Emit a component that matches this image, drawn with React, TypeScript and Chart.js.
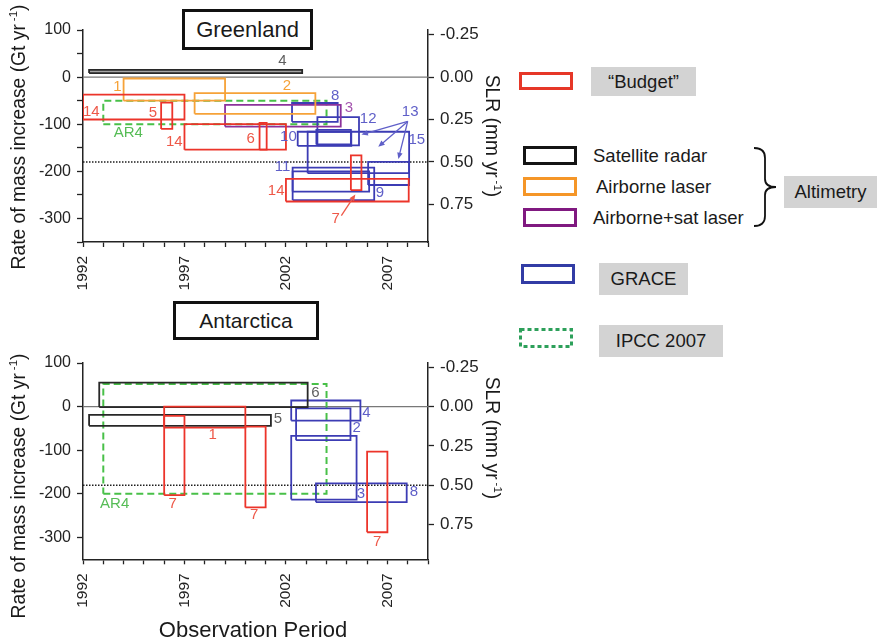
import React, { useEffect, useRef } from "react";
import { Chart, registerables } from "chart.js";
Chart.register(...registerables);

const FONT = "'Liberation Sans', Arial, Helvetica, sans-serif";

// ---- axes ----
const YEAR_MIN = 1992;
const YEAR_MAX = 2009;
const YEAR_TICKS = [1992, 1993, 1994, 1995, 1996, 1997, 1998, 1999, 2000, 2001, 2002, 2003, 2004, 2005, 2006, 2007, 2008, 2009];
const YEAR_LABELS = [1992, 1997, 2002, 2007];
const GT_MIN = -350;
const GT_MAX = 100;
const GT_TICKS = [100, 50, 0, -50, -100, -150, -200, -250, -300, -350];
const GT_LABELS = [100, 0, -100, -200, -300];
const SLR_TICKS = [-0.25, 0, 0.25, 0.5, 0.75];
const GT_PER_MM = 360;
const ZERO_LINE = 0;
const HALF_MM_LINE = -180;

// ---- Greenland boxes: [startYear, endYear, lowGt, highGt] ----
const GRL_BUDGET = [
  [1992, 1997, -90, -37],
  [1995.85, 1996.4, -110, -54],
  [1997, 2002, -154, -100],
  [2000.7, 2001.05, -154, -97],
  [2002, 2008.05, -264, -216],
  [2005.2, 2005.72, -240, -166],
];
const GRL_RADAR = [[1992.3, 2002.8, 8.5, 15.5]];
const GRL_AIRBORNE = [
  [1994, 1999, -50, -3],
  [1997.5, 2003.45, -78, -34],
];
const GRL_AIRSAT = [[1999, 2004.7, -105, -59]];
const GRL_GRACE = [
  [2002.3, 2004.55, -95, -55],
  [2003.55, 2005.6, -145, -85],
  [2002.58, 2005.22, -146, -116],
  [2003.5, 2005.2, -143, -112],
  [2003.07, 2008.07, -204, -116],
  [2006.05, 2008.07, -229, -180],
  [2002.33, 2006.35, -261, -192],
  [2002.33, 2006.1, -243, -200],
];
const GRL_IPCC = [[1993, 2004, -100, -50]];

// labels: [text, year, Gt]
const GRL_BUDGET_TAGS = [["14", 1992.41, -73], ["5", 1995.44, -75], ["14", 1996.5, -138], ["6", 2000.26, -131], ["14", 2001.52, -242], ["7", 2004.45, -301]];
const GRL_RADAR_TAGS = [["4", 2001.83, 35]];
const GRL_AIRBORNE_TAGS = [["1", 1993.69, -21], ["2", 2002.05, -18]];
const GRL_AIRSAT_TAGS = [["3", 2005.1, -66]];
const GRL_GRACE_TAGS = [["8", 2004.43, -39], ["12", 2006.05, -89], ["13", 2008.12, -73], ["10", 2002.12, -127], ["15", 2008.45, -133], ["11", 2001.83, -191], ["9", 2006.63, -246]];
const GRL_IPCC_TAGS = [["AR4", 1994.23, -119]];
// arrows: [fromYear, fromGt, toYear, toGt]
const GRL_GRACE_ARROWS = [[2008.0, -94, 2005.72, -122], [2008.0, -94, 2006.55, -148], [2008.0, -94, 2007.54, -174]];
const GRL_BUDGET_ARROWS = [[2004.73, -294, 2005.42, -249]];

// ---- Antarctica boxes ----
const ANT_BUDGET = [
  [1996, 2000, -48, 0],
  [1996, 1997, -203, -21],
  [2000, 2001, -231, -46],
  [2006, 2007, -288, -103],
];
const ANT_RADAR = [
  [1992.8, 2003.07, -1, 55],
  [1992.3, 2001.26, -44, -19],
];
const ANT_GRACE = [
  [2002.26, 2005.67, -32, 14],
  [2002.5, 2005.18, -77, -4],
  [2002.26, 2005.48, -213, -67],
  [2003.48, 2007.95, -219, -176],
];
const ANT_IPCC = [[1993, 2004, -200, 52]];

const ANT_BUDGET_TAGS = [["1", 1998.39, -65], ["7", 1996.42, -223], ["7", 2000.43, -249], ["7", 2006.5, -310]];
const ANT_RADAR_TAGS = [["6", 2003.45, 31], ["5", 2001.6, -29]];
const ANT_GRACE_TAGS = [["4", 2005.97, -15], ["2", 2005.48, -48], ["3", 2005.7, -199], ["8", 2008.31, -195]];
const ANT_IPCC_TAGS = [["AR4", 1993.56, -222]];

// ---- styles ----
const STYLE = {
  budget: { line: "rgb(236,52,42)", text: "rgb(238,88,72)", dash: [] as number[], width: 1.8 },
  radar: { line: "rgb(40,40,40)", text: "rgb(95,95,95)", dash: [] as number[], width: 1.8 },
  airborne: { line: "rgb(246,162,56)", text: "rgb(246,162,56)", dash: [] as number[], width: 1.8 },
  airsat: { line: "rgb(140,50,155)", text: "rgb(165,85,175)", dash: [] as number[], width: 1.8 },
  grace: { line: "rgb(60,60,180)", text: "rgb(95,95,200)", dash: [] as number[], width: 1.8 },
  ipcc: { line: "rgb(72,192,72)", text: "rgb(85,188,85)", dash: [7, 4], width: 2 },
};

type Box = number[];
type Tag = (string | number)[];

function boxPoints(b: Box) {
  const [x0, x1, y0, y1] = b;
  return [
    { x: x0, y: y0 },
    { x: x1, y: y0 },
    { x: x1, y: y1 },
    { x: x0, y: y1 },
    { x: x0, y: y0 },
  ];
}

function boxDatasets(boxes: Box[], key: keyof typeof STYLE, fillColor?: string) {
  const s = STYLE[key];
  return boxes.map((b) => ({
    data: boxPoints(b),
    showLine: true,
    borderColor: s.line,
    borderWidth: s.width,
    borderDash: s.dash,
    pointRadius: 0,
    pointHoverRadius: 0,
    tension: 0,
    fill: fillColor ? "shape" : false,
    backgroundColor: fillColor || "transparent",
  }));
}

function refLines() {
  return [
    {
      data: [{ x: YEAR_MIN, y: ZERO_LINE }, { x: YEAR_MAX, y: ZERO_LINE }],
      showLine: true, borderColor: "rgb(120,120,120)", borderWidth: 1.2, pointRadius: 0, fill: false,
    },
    {
      data: [{ x: YEAR_MIN, y: HALF_MM_LINE }, { x: YEAR_MAX, y: HALF_MM_LINE }],
      showLine: true, borderColor: "rgb(30,30,30)", borderWidth: 1.5, borderDash: [1.5, 1.5], pointRadius: 0, fill: false,
    },
  ];
}

function annotPlugin(tags: { list: Tag[]; color: string }[], arrows: { list: number[][]; color: string }[]) {
  return {
    id: "annot",
    afterDatasetsDraw(chart: any) {
      const { ctx, scales } = chart;
      const x = scales.x;
      const y = scales.y;
      ctx.save();
      ctx.font = `15px ${FONT}`;
      ctx.textAlign = "center";
      ctx.textBaseline = "middle";
      tags.forEach((g) => {
        ctx.fillStyle = g.color;
        g.list.forEach((t) => {
          ctx.fillText(String(t[0]), x.getPixelForValue(t[1] as number), y.getPixelForValue(t[2] as number));
        });
      });
      arrows.forEach((g) => {
        ctx.strokeStyle = g.color;
        ctx.fillStyle = g.color;
        ctx.lineWidth = 1.3;
        g.list.forEach((a) => {
          const x0 = x.getPixelForValue(a[0]);
          const y0 = y.getPixelForValue(a[1]);
          const x1 = x.getPixelForValue(a[2]);
          const y1 = y.getPixelForValue(a[3]);
          const ang = Math.atan2(y1 - y0, x1 - x0);
          const hl = 7;
          ctx.beginPath();
          ctx.moveTo(x0, y0);
          ctx.lineTo(x1 - Math.cos(ang) * hl * 0.8, y1 - Math.sin(ang) * hl * 0.8);
          ctx.stroke();
          ctx.beginPath();
          ctx.moveTo(x1, y1);
          ctx.lineTo(x1 - hl * Math.cos(ang - 0.4), y1 - hl * Math.sin(ang - 0.4));
          ctx.lineTo(x1 - hl * Math.cos(ang + 0.4), y1 - hl * Math.sin(ang + 0.4));
          ctx.closePath();
          ctx.fill();
        });
      });
      ctx.restore();
    },
  };
}

const AXIS_COLOR = "rgb(35,35,35)";

function makeOptions(topPad: number, xHeight: number) {
  return {
    responsive: false,
    animation: false as const,
    events: [],
    layout: { padding: { top: topPad, left: 0, right: 0, bottom: 0 } },
    plugins: { legend: { display: false }, tooltip: { enabled: false } },
    scales: {
      x: {
        type: "linear" as const,
        min: YEAR_MIN,
        max: YEAR_MAX,
        afterBuildTicks: (s: any) => { s.ticks = YEAR_TICKS.map((v) => ({ value: v })); },
        afterFit: (s: any) => { s.height = xHeight; },
        ticks: {
          autoSkip: false,
          minRotation: 90,
          maxRotation: 90,
          padding: 9,
          font: { family: FONT, size: 15.5 },
          color: AXIS_COLOR,
          callback: (v: any) => (YEAR_LABELS.includes(v) ? String(v) : ""),
        },
        grid: { drawOnChartArea: false, tickLength: 5, tickColor: AXIS_COLOR, tickWidth: 1.3 },
        border: { color: AXIS_COLOR, width: 1.5 },
      },
      y: {
        type: "linear" as const,
        position: "left" as const,
        min: GT_MIN,
        max: GT_MAX,
        afterBuildTicks: (s: any) => { s.ticks = GT_TICKS.map((v) => ({ value: v })); },
        afterFit: (s: any) => { s.width = 83; },
        ticks: {
          padding: 6,
          font: { family: FONT, size: 16 },
          color: AXIS_COLOR,
          callback: (v: any) => (GT_LABELS.includes(v) ? String(v) : ""),
        },
        grid: { drawOnChartArea: false, tickLength: 6, tickColor: AXIS_COLOR, tickWidth: 1.3 },
        border: { color: AXIS_COLOR, width: 1.5 },
      },
      y2: {
        type: "linear" as const,
        position: "right" as const,
        reverse: true,
        min: -GT_MAX / GT_PER_MM,
        max: -GT_MIN / GT_PER_MM,
        afterBuildTicks: (s: any) => { s.ticks = SLR_TICKS.map((v) => ({ value: v })); },
        afterFit: (s: any) => { s.width = 92; },
        ticks: {
          padding: 6,
          font: { family: FONT, size: 17 },
          color: AXIS_COLOR,
          callback: (v: any) => Number(v).toFixed(2),
        },
        grid: { drawOnChartArea: false, tickLength: 6, tickColor: AXIS_COLOR, tickWidth: 1.3 },
        border: { color: AXIS_COLOR, width: 1.5 },
      },
    },
  };
}

const boxText: React.CSSProperties = {
  position: "absolute",
  background: "rgb(211,211,211)",
  display: "flex",
  alignItems: "center",
  justifyContent: "center",
  fontSize: 18.5,
  color: "#1a1a1a",
  whiteSpace: "nowrap",
};

const legendText: React.CSSProperties = {
  position: "absolute",
  fontSize: 18.5,
  whiteSpace: "nowrap",
  lineHeight: "20px",
};

function Swatch({ left, top, color, h = 19 }: { left: number; top: number; color: string; h?: number }) {
  return (
    <div
      style={{
        position: "absolute", left, top, width: 54, height: h, boxSizing: "border-box",
        border: `3.5px solid ${color}`, background: "#fff",
      }}
    />
  );
}

function RotTitle({ cx, cy, deg, children }: { cx: number; cy: number; deg: number; children: React.ReactNode }) {
  return (
    <div
      style={{
        position: "absolute", left: cx, top: cy, transform: `translate(-50%, -50%) rotate(${deg}deg)`,
        whiteSpace: "nowrap", fontSize: 19.3, color: "#1a1a1a", lineHeight: "22px",
      }}
    >
      {children}
    </div>
  );
}

const sup: React.CSSProperties = { fontSize: 11.5, verticalAlign: "8px", marginLeft: 3 };

export default function App() {
  const grlRef = useRef<HTMLCanvasElement>(null);
  const antRef = useRef<HTMLCanvasElement>(null);

  useEffect(() => {
    const grl = new Chart(grlRef.current as HTMLCanvasElement, {
      type: "scatter",
      data: {
        datasets: [
          ...boxDatasets(GRL_BUDGET, "budget"),
          ...boxDatasets(GRL_RADAR, "radar", "rgb(165,165,165)"),
          ...boxDatasets(GRL_AIRBORNE, "airborne"),
          ...boxDatasets(GRL_AIRSAT, "airsat"),
          ...boxDatasets(GRL_GRACE, "grace"),
          ...boxDatasets(GRL_IPCC, "ipcc"),
          ...refLines(),
        ] as any,
      },
      options: makeOptions(30, 58) as any,
      plugins: [
        annotPlugin(
          [
            { list: GRL_BUDGET_TAGS, color: STYLE.budget.text },
            { list: GRL_RADAR_TAGS, color: STYLE.radar.text },
            { list: GRL_AIRBORNE_TAGS, color: STYLE.airborne.text },
            { list: GRL_AIRSAT_TAGS, color: STYLE.airsat.text },
            { list: GRL_GRACE_TAGS, color: STYLE.grace.text },
            { list: GRL_IPCC_TAGS, color: STYLE.ipcc.text },
          ],
          [
            { list: GRL_GRACE_ARROWS, color: STYLE.grace.text },
            { list: GRL_BUDGET_ARROWS, color: STYLE.budget.text },
          ]
        ),
      ],
    });
    const ant = new Chart(antRef.current as HTMLCanvasElement, {
      type: "scatter",
      data: {
        datasets: [
          ...boxDatasets(ANT_BUDGET, "budget"),
          ...boxDatasets(ANT_RADAR, "radar"),
          ...boxDatasets(ANT_GRACE, "grace"),
          ...boxDatasets(ANT_IPCC, "ipcc"),
          ...refLines(),
        ] as any,
      },
      options: makeOptions(63, 82.7) as any,
      plugins: [
        annotPlugin(
          [
            { list: ANT_BUDGET_TAGS, color: STYLE.budget.text },
            { list: ANT_RADAR_TAGS, color: STYLE.radar.text },
            { list: ANT_GRACE_TAGS, color: STYLE.grace.text },
            { list: ANT_IPCC_TAGS, color: STYLE.ipcc.text },
          ],
          []
        ),
      ],
    });
    return () => {
      grl.destroy();
      ant.destroy();
    };
  }, []);

  return (
    <div
      style={{
        position: "absolute", left: 0, top: 0, width: 877, height: 642, background: "#fff",
        fontFamily: FONT, color: "#1a1a1a", overflow: "hidden",
      }}
    >
      <canvas ref={grlRef} width={520} height={300} style={{ position: "absolute", left: 0, top: 0, width: 520, height: 300 }} />
      <canvas ref={antRef} width={520} height={342} style={{ position: "absolute", left: 0, top: 300, width: 520, height: 342 }} />

      {/* panel titles */}
      <div style={{ position: "absolute", left: 182, top: 9, width: 131, height: 41, boxSizing: "border-box", border: "3px solid #111", background: "#fff", display: "flex", alignItems: "center", justifyContent: "center", fontSize: 22 }}>
        Greenland
      </div>
      <div style={{ position: "absolute", left: 173, top: 301, width: 146, height: 39, boxSizing: "border-box", border: "3px solid #111", background: "#fff", display: "flex", alignItems: "center", justifyContent: "center", fontSize: 21 }}>
        Antarctica
      </div>

      {/* axis titles */}
      <RotTitle cx={16} cy={137} deg={-90}>
        Rate of mass increase (Gt yr<span style={sup}>-1</span>)
      </RotTitle>
      <RotTitle cx={16} cy={486} deg={-90}>
        Rate of mass increase (Gt yr<span style={sup}>-1</span>)
      </RotTitle>
      <RotTitle cx={495} cy={136} deg={90}>
        SLR (mm yr<span style={sup}>-1</span>)
      </RotTitle>
      <RotTitle cx={495} cy={438} deg={90}>
        SLR (mm yr<span style={sup}>-1</span>)
      </RotTitle>
      <div style={{ position: "absolute", left: 253, top: 630, transform: "translate(-50%, -50%)", fontSize: 22, whiteSpace: "nowrap" }}>
        Observation Period
      </div>

      {/* legend */}
      <Swatch left={519} top={72} color="rgb(230,55,40)" h={18} />
      <div style={{ ...boxText, left: 591, top: 67, width: 105, height: 29 }}>“Budget”</div>

      <Swatch left={523} top={146} color="rgb(20,20,20)" />
      <div style={{ ...legendText, left: 593, top: 146 }}>Satellite radar</div>
      <Swatch left={523} top={177} color="rgb(245,150,40)" />
      <div style={{ ...legendText, left: 596, top: 177 }}>Airborne laser</div>
      <Swatch left={523} top={208} color="rgb(128,25,128)" />
      <div style={{ ...legendText, left: 593, top: 208 }}>Airborne+sat laser</div>

      <svg style={{ position: "absolute", left: 0, top: 0 }} width={877} height={642}>
        <path
          d="M 754 148 Q 765 148 765 158 L 765 179 Q 765 187 776 187 Q 765 187 765 195 L 765 216 Q 765 226 754 226"
          fill="none"
          stroke="#111"
          strokeWidth={1.8}
        />
        <rect x={520.5} y={329.5} width={51} height={17} fill="#fff" stroke="rgb(45,160,90)" strokeWidth={3} strokeDasharray="4 3" />
      </svg>
      <div style={{ ...boxText, left: 784, top: 176, width: 93, height: 32 }}>Altimetry</div>

      <Swatch left={521} top={264} color="rgb(50,60,165)" h={20} />
      <div style={{ ...boxText, left: 599, top: 263, width: 89, height: 32 }}>GRACE</div>

      <div style={{ ...boxText, left: 599, top: 325, width: 124, height: 32 }}>IPCC 2007</div>
    </div>
  );
}
